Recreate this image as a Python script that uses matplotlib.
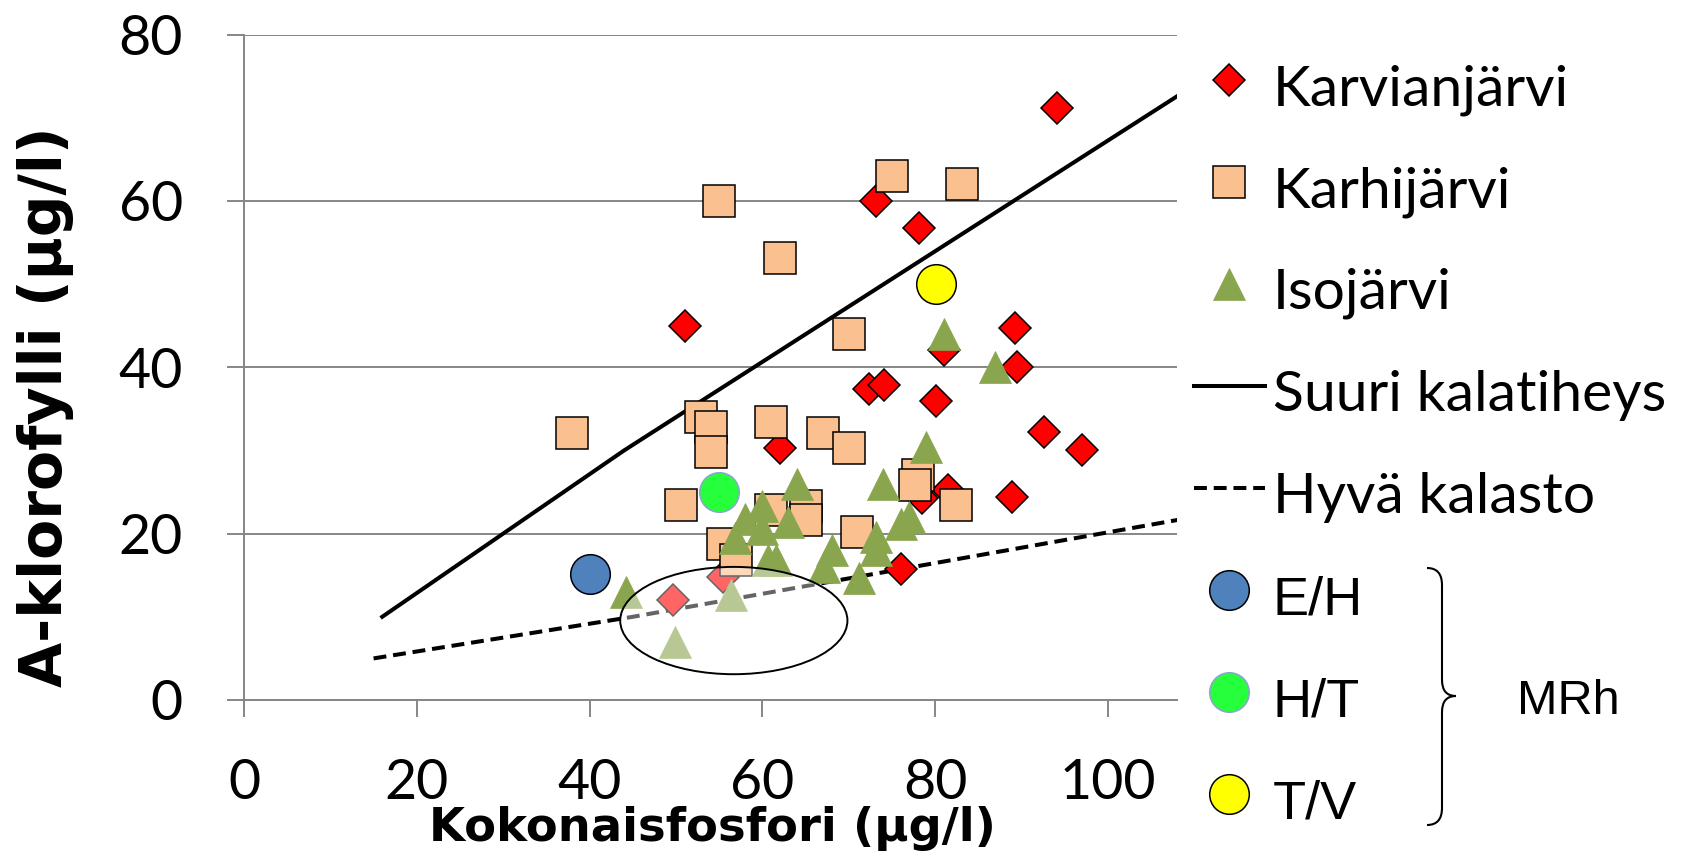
import matplotlib
matplotlib.use("Agg")
import matplotlib.pyplot as plt
from matplotlib.patches import Ellipse, PathPatch
from matplotlib.path import Path

plt.rcParams['font.family'] = ['Lato', 'DejaVu Sans']

# Karvianjärvi (kokonaisfosfori, a-klorofylli)
karvia_tp = [94.1, 73.1, 78.1, 51.0, 89.3, 81.0, 89.5, 72.4, 74.1, 80.1, 92.6, 97.0,
             62.0, 88.9, 78.5, 81.5, 76.0, 49.7, 55.5]
karvia_chl = [71.2, 60.0, 56.7, 45.0, 44.7, 42.1, 40.0, 37.4, 37.9, 35.9, 32.2, 30.0,
              30.3, 24.4, 24.3, 25.2, 15.8, 12.0, 14.8]

# Karhijärvi
karhi_tp = [75.0, 83.1, 55.0, 62.0, 70.0, 38.0, 52.9, 54.0, 54.0, 61.0, 67.0, 70.0,
            50.6, 78.0, 77.7, 82.4, 71.0, 55.5, 56.9, 61.0, 65.0, 65.0]
karhi_chl = [63.0, 62.0, 60.0, 53.1, 44.0, 32.1, 34.0, 32.8, 29.8, 33.4, 32.1, 30.3,
             23.5, 27.0, 25.8, 23.5, 20.2, 18.8, 16.8, 22.9, 23.3, 21.6]

# Isojärvi
iso_tp = [81.0, 86.9, 79.0, 64.0, 74.0, 60.0, 58.0, 63.0, 77.0, 76.0, 60.0, 56.8,
          73.1, 73.1, 68.1, 60.6, 61.6, 67.1, 71.2, 56.4, 44.2, 49.9]
iso_chl = [44.0, 40.0, 30.4, 26.0, 26.0, 23.3, 21.7, 21.4, 22.0, 21.2, 20.6, 19.5,
           19.6, 18.0, 18.0, 16.8, 16.8, 16.0, 14.7, 12.6, 13.0, 7.0]

# MRh-luokkarajat
mrh_labels = ["E/H", "H/T", "T/V"]
mrh_tp = [40.0, 55.0, 80.1]
mrh_chl = [15.2, 25.0, 50.0]

# Vertailukäyrät
suuri_tp = [16, 44, 110]
suuri_chl = [10, 30, 73.9]
hyva_tp = [15, 45, 110]
hyva_chl = [5, 10, 22]

W, H = 1693, 861
fig = plt.figure(figsize=(W / 100, H / 100), dpi=100)
ax = fig.add_axes([244 / W, 1 - 700 / H, 933 / W, 665.5 / H])

grey = "#868686"
ax.plot(suuri_tp, suuri_chl, color="black", lw=2.9, zorder=2, label="Suuri kalatiheys")
ax.plot(hyva_tp, hyva_chl, color="black", lw=2.9, dashes=(3.2, 1.7), zorder=2,
        label="Hyvä kalasto")

ax.plot(karvia_tp, karvia_chl, ls="none", marker="D", ms=16.8, mfc="#FF0000",
        mec="black", mew=1.1, zorder=3, label="Karvianjärvi")
ax.plot(karhi_tp, karhi_chl, ls="none", marker="s", ms=23.3, mfc="#FAC090",
        mec="black", mew=1.1, zorder=4, label="Karhijärvi")
ax.plot(iso_tp, iso_chl, ls="none", marker="^", ms=23.5, mfc="#89A54E",
        mec="#89A54E", mew=0.5, zorder=5, label="Isojärvi")

mrh_fill = ["#4F81BD", "#26FF3B", "#FFFF00"]
mrh_edge = ["black", "#8EA4D2", "black"]
for i in range(3):
    ax.plot([mrh_tp[i]], [mrh_chl[i]], ls="none", marker="o", ms=28.5,
            mfc=mrh_fill[i], mec=mrh_edge[i], mew=1.1, zorder=6,
            label=mrh_labels[i])

# läpikuultava soikio alimpien havaintojen päällä
ell = Ellipse((56.7, 9.55), 26.3, 12.9, facecolor=(1, 1, 1, 0.4),
              edgecolor="black", lw=1.4, zorder=7)
ax.add_patch(ell)

ax.set_xlim(0, 108)
ax.set_ylim(0, 80)
ax.set_xticks([0, 20, 40, 60, 80, 100])
ax.set_yticks([0, 20, 40, 60, 80])
ax.yaxis.grid(True, color=grey, lw=1.4)
ax.set_axisbelow(True)
for s in ["top", "right"]:
    ax.spines[s].set_visible(False)
for s in ["left", "bottom"]:
    ax.spines[s].set_color(grey)
    ax.spines[s].set_linewidth(1.4)
ax.tick_params(axis="both", colors=grey, length=12, width=1.4, labelcolor="black",
               labelsize=40)
ax.tick_params(axis="x", pad=30)
ax.tick_params(axis="y", pad=32)

ax.set_xlabel("Kokonaisfosfori (µg/l)", fontsize=33.5, fontweight="bold",
              family="DejaVu Sans")
ax.xaxis.set_label_coords(0.502, -0.16)
ax.set_ylabel("A-klorofylli (µg/l)", fontsize=42, fontweight="bold",
              family="DejaVu Sans", va="center")
ax.yaxis.set_label_coords(-0.213, 0.44)

handles, labels = ax.get_legend_handles_labels()
order = [2, 3, 4, 0, 1, 5, 6, 7]
leg = ax.legend([handles[i] for i in order], [labels[i] for i in order],
                loc="upper left", bbox_to_anchor=(1194 / W, 1 - 55 / H),
                bbox_transform=fig.transFigure, frameon=False, fontsize=41,
                handlelength=1.24, handleheight=1.3, handletextpad=0.14,
                labelspacing=0.70, borderpad=0, borderaxespad=0)
for t in leg.get_texts()[5:]:
    t.set_family("Liberation Sans")
    t.set_fontsize(39)

# aaltosulje MRh-merkkien vieressä
def fp(x, y):
    return (x / W, 1 - y / H)

verts = [fp(1427, 568), fp(1442, 568), fp(1442, 585), fp(1442, 680),
         fp(1442, 696), fp(1456, 696), fp(1442, 696), fp(1442, 712),
         fp(1442, 808), fp(1442, 825), fp(1427, 825)]
codes = [Path.MOVETO, Path.CURVE3, Path.CURVE3, Path.LINETO,
         Path.CURVE3, Path.CURVE3, Path.CURVE3, Path.CURVE3,
         Path.LINETO, Path.CURVE3, Path.CURVE3]
brace = PathPatch(Path(verts, codes), transform=fig.transFigure, fill=False,
                  edgecolor="black", lw=1.5)
fig.patches.append(brace)
fig.text(1568 / W, 1 - 714 / H, "MRh", family="Liberation Sans", fontsize=35,
         ha="center", va="baseline")

fig.savefig("out.png", dpi=100)
